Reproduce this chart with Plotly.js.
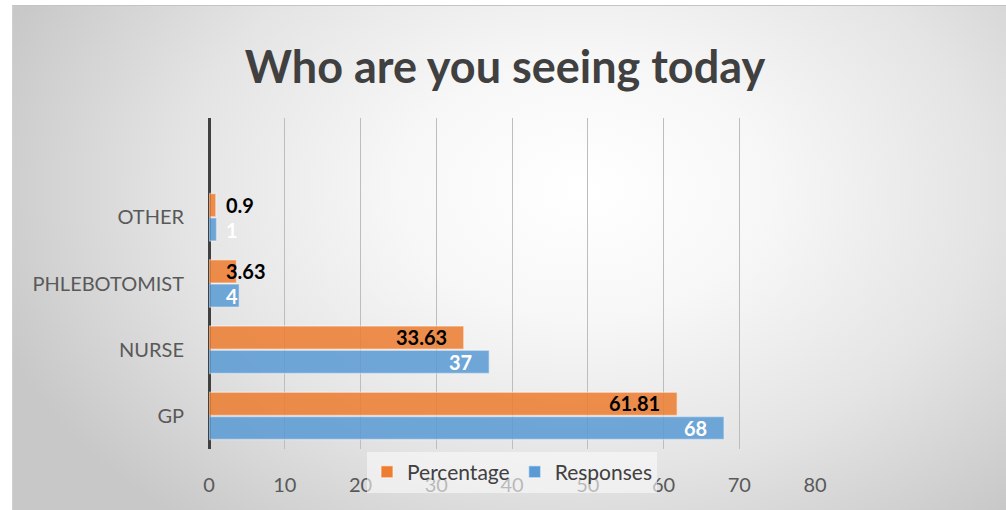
<!DOCTYPE html>
<html>
<head>
<meta charset="utf-8">
<script src="https://cdn.plot.ly/plotly-3.0.1.min.js"></script>
<style>
  html, body { margin: 0; padding: 0; background: #ffffff; }
  #wrap { position: relative; width: 1006px; height: 510px; overflow: hidden; background: #ffffff; }
  #bg { position: absolute; left: 12px; top: 5px; width: 1000px; height: 510px;
        border-top: 1px solid #c4c4c4; border-left: 1px solid #d0d0d0;
        background: radial-gradient(ellipse 62% 85% at 57% 36%, #ffffff 0%, #f7f7f7 30%, #e4e4e4 65%, #c8c8c8 100%); }
  #chart { position: absolute; left: 0; top: 0; width: 1006px; height: 510px; }
</style>
</head>
<body>
<div id="wrap">
  <div id="bg"></div>
  <div id="chart"></div>
</div>
<script>
const categories = ['GP', 'NURSE', 'PHLEBOTOMIST', 'OTHER'];
const responses = [68, 37, 4, 1];
const percentage = [61.81, 33.63, 3.63, 0.9];
const xTicks = [0, 10, 20, 30, 40, 50, 60, 70, 80];

const FONT = 'Lato, "Open Sans", sans-serif';
const margin = {l: 209, r: 191, t: 118, b: 61};
const plotW = 1006 - margin.l - margin.r;
const xMax = 80;
const pxPerUnit = plotW / xMax;

const traces = [
  {
    type: 'bar', orientation: 'h', name: 'Responses',
    y: categories, x: responses,
    marker: {color: '#5B9BD5', opacity: 0.86, line: {color: 'rgba(255,255,255,0.45)', width: 1.5}},
    hoverinfo: 'x+y'
  },
  {
    type: 'bar', orientation: 'h', name: 'Percentage',
    y: categories, x: percentage,
    marker: {color: '#ED7D31', opacity: 0.86, line: {color: 'rgba(255,255,255,0.45)', width: 1.5}},
    hoverinfo: 'x+y'
  }
];

function labelAnn(vals, color, yshift) {
  return vals.map((v, i) => {
    const txt = String(v);
    const w = txt.length * 11;
    const fitsInside = v * pxPerUnit - 16 - w >= 15;
    return {
      x: fitsInside ? v : 0, y: categories[i], xref: 'x', yref: 'y',
      text: '<b>' + txt + '</b>', showarrow: false,
      xanchor: fitsInside ? 'right' : 'left',
      xshift: fitsInside ? -15 : 15, yshift: yshift,
      font: {family: FONT, size: 20, color: color}
    };
  });
}

const annotations = [].concat(
  labelAnn(percentage, '#000000', 12.5),
  labelAnn(responses, '#ffffff', -12.5)
);

const layout = {
  width: 1006, height: 510,
  margin: margin,
  paper_bgcolor: 'rgba(0,0,0,0)',
  plot_bgcolor: 'rgba(0,0,0,0)',
  font: {family: FONT, color: '#595959'},
  title: {
    text: '<b>Who are you seeing today</b>',
    font: {family: FONT, size: 45, color: '#404040'},
    x: 0.502, xref: 'container', xanchor: 'center',
    y: 0.868, yref: 'container', yanchor: 'middle'
  },
  barmode: 'group',
  bargap: 0.27,
  bargroupgap: 0.04,
  xaxis: {
    range: [0, xMax],
    tickvals: xTicks,
    ticktext: xTicks.map(String),
    showgrid: true, gridcolor: '#bdbdbd', gridwidth: 1,
    zeroline: true, zerolinecolor: '#404040', zerolinewidth: 3,
    showline: false,
    ticks: 'outside', ticklen: 18, tickcolor: 'rgba(0,0,0,0)',
    tickfont: {family: FONT, size: 20, color: '#595959'},
    fixedrange: true
  },
  yaxis: {
    type: 'category',
    categoryorder: 'array', categoryarray: categories,
    range: [-0.5, 4.5],
    showgrid: false, zeroline: false, showline: false,
    ticks: 'outside', ticklen: 20, tickcolor: 'rgba(0,0,0,0)',
    tickfont: {family: FONT, size: 20, color: '#595959'},
    fixedrange: true
  },
  showlegend: true,
  legend: {
    orientation: 'h',
    traceorder: 'reversed',
    x: 0.5, xanchor: 'center',
    y: -0.07, yanchor: 'middle',
    bgcolor: 'rgba(250,250,250,0.6)',
    font: {family: FONT, size: 21, color: '#404040'},
    itemwidth: 30
  },
  annotations: annotations
};

Plotly.newPlot('chart', traces, layout, {displayModeBar: false, staticPlot: true});
</script>
</body>
</html>
